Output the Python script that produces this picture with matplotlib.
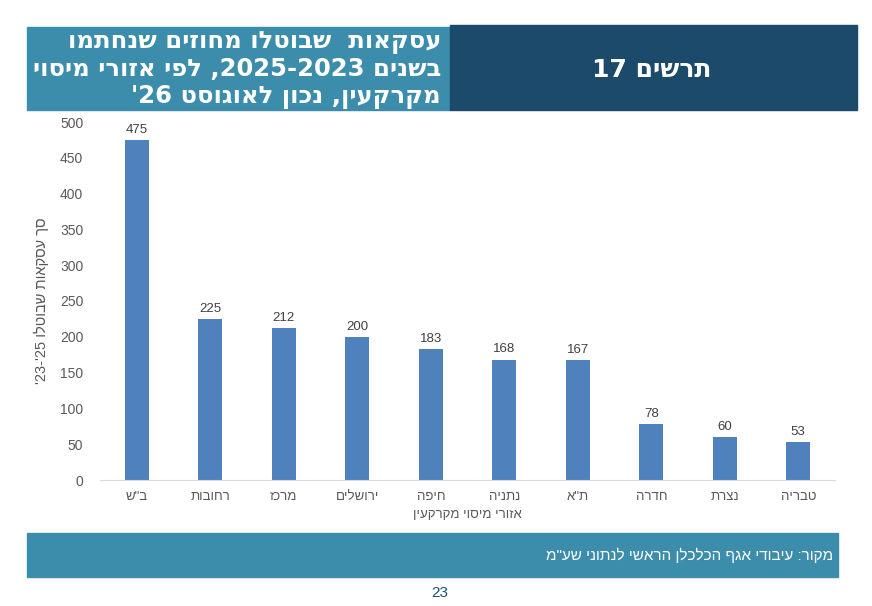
import re
import matplotlib
matplotlib.use("Agg")
import matplotlib.pyplot as plt
from matplotlib.patches import Rectangle

W, H = 872, 606

# -----------------------------
# Data
# -----------------------------
regions = ["ב\"ש", "רחובות", "מרכז", "ירושלים", "חיפה", "נתניה", "ת\"א", "חדרה", "נצרת", "טבריה"]
cancelled = [475, 225, 212, 200, 183, 168, 167, 78, 60, 53]
y_ticks = [0, 50, 100, 150, 200, 250, 300, 350, 400, 450, 500]

title_lines = [
    "עסקאות  שבוטלו מחוזים שנחתמו",
    "בשנים 2023-2025, לפי אזורי מיסוי",
    "מקרקעין, נכון לאוגוסט 26'",
]
chart_no = "תרשים 17"
x_title = "אזורי מיסוי מקרקעין"
y_title = "סך עסקאות שבוטלו"
y_years = "'23-'25"
source = "מקור: עיבודי אגף הכלכלן הראשי לנתוני שע\"מ"
page = "23"

LIGHT = "#3b8dab"
DARK = "#1b4a6b"
BAR = "#4f81bd"
GRAY = "#595959"

HEB = ["DejaVu Sans"]
ARIAL = ["Liberation Sans", "DejaVu Sans"]


def heb(s):
    # matplotlib has no bidi: flip to visual order, keep digit runs LTR
    r = s[::-1]
    return re.sub(r"\d+", lambda m: m.group(0)[::-1], r)


def fx(x):
    return x / W


def fy(y):
    return 1 - y / H


fig = plt.figure(figsize=(W / 100, H / 100), dpi=100)

# -----------------------------
# Header boxes
# -----------------------------
fig.patches.append(Rectangle((fx(27), fy(110)), fx(450) - fx(27), fy(27) - fy(110),
                             transform=fig.transFigure, color=LIGHT, zorder=0))
fig.patches.append(Rectangle((fx(450), fy(110)), fx(857) - fx(450), fy(25) - fy(110),
                             transform=fig.transFigure, color=DARK, zorder=0))

for i, line in enumerate(title_lines):
    fig.text(fx(441), fy(42 + i * 27.5), heb(line), ha="right", va="center",
             color="white", fontsize=17.5, fontweight="bold", family=HEB)

fig.text(fx(652), fy(70), heb(chart_no), ha="center", va="center",
         color="white", fontsize=18, fontweight="bold", family=HEB)

# -----------------------------
# Bar chart
# -----------------------------
ax = fig.add_axes([fx(100), fy(480), fx(835) - fx(100), fy(122) - fy(480)])
x = range(len(regions))
bars = ax.bar(x, cancelled, width=0.33, color=BAR, zorder=2)

for b, v in zip(bars, cancelled):
    ax.text(b.get_x() + b.get_width() / 2, v + 6, str(v), ha="center", va="bottom",
            fontsize=9.5, color="#404040", family=ARIAL)

ax.set_xlim(-0.5, len(regions) - 0.5)
ax.set_ylim(0, 500)
ax.set_yticks(y_ticks)
ax.set_yticklabels([str(t) for t in y_ticks], family=ARIAL, fontsize=10, color=GRAY)
ax.set_xticks(list(x))
ax.set_xticklabels([heb(r) for r in regions], family=ARIAL, fontsize=9.5, color=GRAY)
ax.tick_params(axis="both", length=0, pad=8)
ax.tick_params(axis="y", pad=12)

for s in ["top", "right", "left"]:
    ax.spines[s].set_visible(False)
ax.spines["bottom"].set_color("#d9d9d9")

ax.set_xlabel(heb(x_title), family=ARIAL, fontsize=9.5, color=GRAY, labelpad=4)
ax.set_ylabel(y_years + " " + heb(y_title), family=ARIAL, fontsize=10.5, color=GRAY, labelpad=8)

# -----------------------------
# Footer
# -----------------------------
fig.patches.append(Rectangle((fx(27), fy(577)), fx(838) - fx(27), fy(533) - fy(577),
                             transform=fig.transFigure, color=LIGHT, zorder=0))
fig.text(fx(833), fy(555), heb(source), ha="right", va="center",
         color="white", fontsize=11, family=ARIAL)
fig.text(fx(440), fy(593), page, ha="center", va="center",
         color="#1f4e79", fontsize=11, family=ARIAL)

fig.savefig("out.png", dpi=100)
